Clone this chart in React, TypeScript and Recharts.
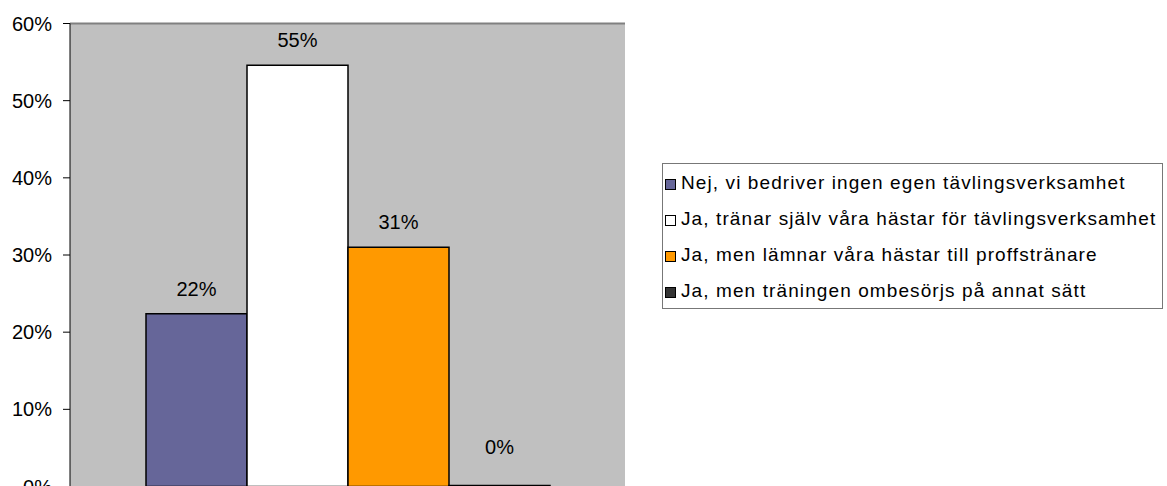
import { Bar, BarChart, CartesianGrid, LabelList, Legend, ReferenceLine, XAxis, YAxis } from "recharts";

const categories = ["Tävlingsverksamhet"];
const seriesNames = [
  "Nej, vi bedriver ingen egen tävlingsverksamhet",
  "Ja, tränar själv våra hästar för tävlingsverksamhet",
  "Ja, men lämnar våra hästar till proffstränare",
  "Ja, men träningen ombesörjs på annat sätt",
];
const seriesValues = [0.224, 0.546, 0.31, 0];
const yTicks = [0, 0.1, 0.2, 0.3, 0.4, 0.5, 0.6];

const SERIES_COLORS = ["#666699", "#FFFFFF", "#FF9900", "#333333"];
const FONT = "'Liberation Sans', Arial, sans-serif";

const data = categories.map((name) => {
  const row: Record<string, string | number> = { name };
  seriesNames.forEach((s, i) => (row[`s${i}`] = seriesValues[i]));
  return row;
});

const pct = (v: number) => `${Math.round(v * 100)}%`;

function BarLabel(props: any) {
  const { x, y, width, value } = props;
  // Excel lifts the label of an empty bar a bit higher
  const off = value === 0 ? 32 : 18;
  return (
    <text x={x + width / 2} y={y - off} textAnchor="middle" fontSize={20} fontFamily={FONT} fill="#000">
      {pct(value)}
    </text>
  );
}

function LegendBox() {
  return (
    <div
      style={{
        boxSizing: "border-box",
        width: 501,
        height: 146,
        border: "1px solid #777",
        background: "#fff",
        paddingTop: 1,
        fontFamily: FONT,
        fontSize: 19,
        letterSpacing: 1.1,
        color: "#000",
      }}
    >
      {seriesNames.map((s, i) => (
        <div key={s} style={{ display: "flex", alignItems: "center", height: 36, whiteSpace: "nowrap" }}>
          <span
            style={{
              display: "inline-block",
              boxSizing: "border-box",
              width: 11,
              height: 11,
              marginLeft: 2,
              marginRight: 5,
              marginTop: 3,
              background: SERIES_COLORS[i],
              border: "1px solid #000",
            }}
          />
          {s}
        </div>
      ))}
    </div>
  );
}

export default function App() {
  return (
    <div style={{ position: "absolute", left: 0, top: 0, width: 1167, height: 486, overflow: "hidden", background: "#fff" }}>
      <BarChart
        width={1167}
        height={520}
        data={data}
        margin={{ top: 23.5, right: 542, bottom: 33.5, left: 0 }}
        barCategoryGap={76}
        barGap={0}
      >
        <CartesianGrid vertical={false} stroke="#000" fill="#C0C0C0" fillOpacity={1} />
        <XAxis dataKey="name" hide />
        <YAxis
          yAxisId="l"
          domain={[0, 0.6]}
          ticks={yTicks}
          tickFormatter={pct}
          width={70}
          tickSize={7}
          tickMargin={11}
          interval={0}
          axisLine={{ stroke: "#000" }}
          tickLine={{ stroke: "#000" }}
          tick={{ fontSize: 20, fill: "#000", fontFamily: FONT }}
        />
        <YAxis
          yAxisId="r"
          orientation="right"
          domain={[0, 0.6]}
          width={0}
          tick={false}
          tickLine={false}
          axisLine={{ stroke: "#808080", strokeWidth: 2 }}
        />
        <ReferenceLine yAxisId="l" y={0.6} stroke="#808080" strokeWidth={2} />
        {seriesNames.map((s, i) => (
          <Bar
            key={s}
            yAxisId="l"
            dataKey={`s${i}`}
            name={s}
            fill={SERIES_COLORS[i]}
            stroke="#000"
            strokeWidth={1.5}
            minPointSize={1}
            isAnimationActive={false}
          >
            <LabelList dataKey={`s${i}`} content={<BarLabel />} />
          </Bar>
        ))}
        <Legend
          layout="horizontal"
          verticalAlign="middle"
          align="center"
          wrapperStyle={{ left: 662, top: 163, width: 501, height: 146 }}
          content={<LegendBox />}
        />
      </BarChart>
    </div>
  );
}
